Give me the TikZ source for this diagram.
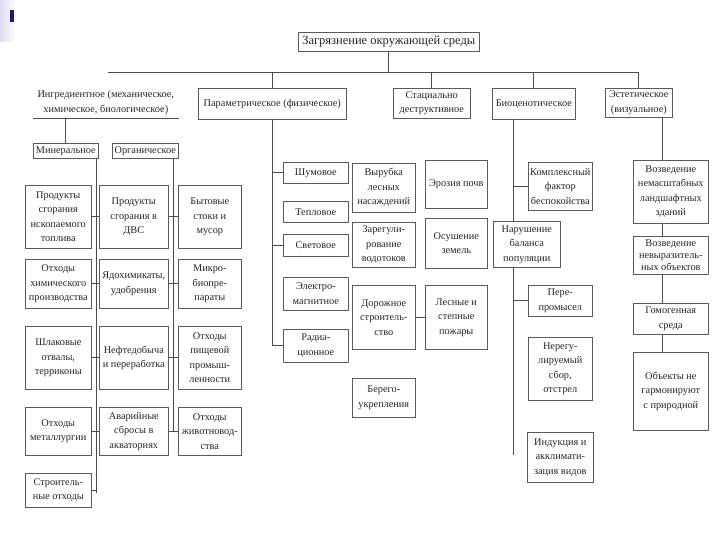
\documentclass[tikz,border=0pt]{standalone}
\usepackage{fontspec}
\setmainfont{Liberation Serif}
\definecolor{boxgray}{HTML}{5A5A5A}
\definecolor{linegray}{HTML}{4A4A4A}
\definecolor{navy}{HTML}{1A1A6E}
\definecolor{lav}{HTML}{DCDCF2}
\newcommand\bx[6]{\node[bx,anchor=north west,minimum width={(#4-#2)*1pt},minimum height={(#5-#3)*1pt}] (#1) at (#2,#3) {#6};}
\begin{document}
\begin{tikzpicture}[x=1pt,y=-1pt,
  bx/.style={draw=boxgray, line width=0.6pt, inner sep=0pt, align=center,
    font=\fontsize{10.3}{14.5}\selectfont, text=black!85},
  ln/.style={draw=linegray, line width=0.7pt}]
\useasboundingbox[fill=white] (0,0) rectangle (720,540);
% slide bullet decoration
\fill[left color=lav, right color=white] (0,0) rectangle (16,42);
\fill[navy] (10,10) rectangle (14,22);
% top
\bx{title}{298}{32}{479}{51}{\fontsize{12.5}{14}\selectfont Загрязнение окружающей среды}
\node[bx,draw=none,anchor=north west,minimum width=145pt,minimum height=32pt] (ingr) at (33,86) {Ингредиентное (механическое,\\химическое, биологическое)};
\bx{param}{198}{88}{346}{119}{Параметрическое (физическое)}
\bx{stat}{393}{88}{470}{118}{Стациально\\деструктивное}
\bx{bio}{492}{88}{575}{119}{Биоценотическое}
\bx{est}{605}{88}{672}{117}{Эстетическое\\(визуальное)}
% ingredient
\bx{min}{33}{143}{98}{158}{Минеральное}
\bx{org}{112}{143}{178}{158}{Органическое}
\bx{l1}{25}{185}{91}{248}{Продукты\\сгорания\\ископаемого\\топлива}
\bx{m1}{99}{185}{168}{248}{Продукты\\сгорания в\\ДВС}
\bx{r1}{178}{185}{241}{248}{Бытовые\\стоки и\\мусор}
\bx{l2}{25}{259}{91}{308}{Отходы\\химического\\производства}
\bx{m2}{99}{259}{168}{308}{Ядохимикаты,\\удобрения}
\bx{r2}{178}{259}{241}{308}{Микро-\\биопре-\\параты}
\bx{l3}{25}{326}{91}{389}{Шлаковые\\отвалы,\\терриконы}
\bx{m3}{99}{326}{168}{389}{Нефтедобыча\\и переработка}
\bx{r3}{178}{326}{241}{389}{Отходы\\пищевой\\промыш-\\ленности}
\bx{l4}{25}{407}{91}{455}{Отходы\\металлургии}
\bx{m4}{99}{407}{168}{455}{Аварийные\\сбросы в\\акваториях}
\bx{r4}{178}{407}{241}{455}{Отходы\\животновод-\\ства}
\bx{l5}{25}{473}{91}{507}{Строитель-\\ные отходы}
% parametric
\bx{p1}{283}{162}{348}{183}{Шумовое}
\bx{p2}{283}{201}{348}{222}{Тепловое}
\bx{p3}{283}{234}{348}{256}{Световое}
\bx{p4}{283}{277}{348}{310}{Электро-\\магнитное}
\bx{p5}{283}{329}{348}{362}{Радиа-\\ционное}
% stational-destructive
\bx{s1}{352}{163}{415}{212}{Вырубка\\лесных\\насаждений}
\bx{s2}{352}{222}{415}{267}{Зарегули-\\рование\\водотоков}
\bx{s3}{352}{285}{415}{349}{Дорожное\\строитель-\\ство}
\bx{s4}{352}{378}{415}{417}{Берего-\\укрепления}
\bx{t1}{425}{160}{487}{208}{Эрозия почв}
\bx{t2}{425}{218}{487}{268}{Осушение\\земель}
\bx{t3}{425}{285}{487}{349}{Лесные и\\степные\\пожары}
% biocenotic
\bx{b1}{528}{162}{592}{210}{Комплексный\\фактор\\беспокойства}
\bx{b2}{493}{221}{560}{267}{Нарушение\\баланса\\популяции}
\bx{b3}{528}{285}{592}{316}{Пере-\\промысел}
\bx{b4}{528}{337}{592}{400}{Нерегу-\\лируемый\\сбор,\\отстрел}
\bx{b5}{527}{432}{593}{482}{Индукция и\\акклимати-\\зация видов}
% aesthetic
\bx{e1}{633}{160}{708}{223}{Возведение\\немасштабных\\ландшафтных\\зданий}
\bx{e2}{633}{236}{708}{274}{Возведение\\[-2.5pt]невыразитель-\\[-2.5pt]ных объектов}
\bx{e3}{633}{303}{708}{334}{Гомогенная\\среда}
\bx{e4}{633}{352}{708}{430}{Объекты не\\гармонируют\\с природной}
% connectors: top bus
\coordinate (busL) at (108,72);
\coordinate (busR) at (638,72);
\draw[ln] (busL) -- (busR);
\draw[ln] (title.south) -- (title.south |- busL);
\draw[ln] (param.north) -- (param.north |- busL);
\draw[ln] (stat.north) -- (stat.north |- busL);
\draw[ln] (bio.north) -- (bio.north |- busL);
\draw[ln] (est.north) -- (est.north |- busL);
% ingredient
\draw[ln] (ingr.south west) -- (ingr.south east);
\draw[ln] (min.north) -- (min.north |- ingr.south);
\coordinate (mvEnd) at (96,493);
\draw[ln] (min.south -| mvEnd) -- (mvEnd);
\draw[ln] (l1.east) -- (m1.west);
\draw[ln] (l2.east) -- (m2.west);
\draw[ln] (l3.east) -- (m3.west);
\draw[ln] (l4.east) -- (m4.west);
\draw[ln] (l5.east) -- (l5.east -| mvEnd);
\coordinate (ovEnd) at (173,431);
\draw[ln] (org.south -| ovEnd) -- (ovEnd);
\draw[ln] (m1.east) -- (r1.west);
\draw[ln] (m2.east) -- (r2.west);
\draw[ln] (m3.east) -- (r3.west);
\draw[ln] (m4.east) -- (r4.west);
% parametric
\draw[ln] (param.south) -- (param.south |- p5.west) -- (p5.west);
\draw[ln] (p1.west) -- (p1.west -| param.south);
\draw[ln] (p3.west) -- (p3.west -| param.south);
% stational
\draw[ln] (s3.east) -- (t3.west);
% biocenotic
\coordinate (bvx) at (513,119);
\draw[ln] (bvx) -- (bvx |- b2.north);
\draw[ln] (b1.west) -- (b1.west -| bvx);
\coordinate (bvEnd) at (513,455);
\draw[ln] (b2.south -| bvEnd) -- (bvEnd);
\draw[ln] (b3.west) -- (b3.west -| bvEnd);
% aesthetic
\coordinate (evx) at (662,117);
\draw[ln] (evx) -- (evx |- e1.north);
\draw[ln] (e1.south -| evx) -- (e2.north -| evx);
\draw[ln] (e2.south -| evx) -- (e3.north -| evx);
\draw[ln] (e3.south -| evx) -- (e4.north -| evx);
\end{tikzpicture}
\end{document}
